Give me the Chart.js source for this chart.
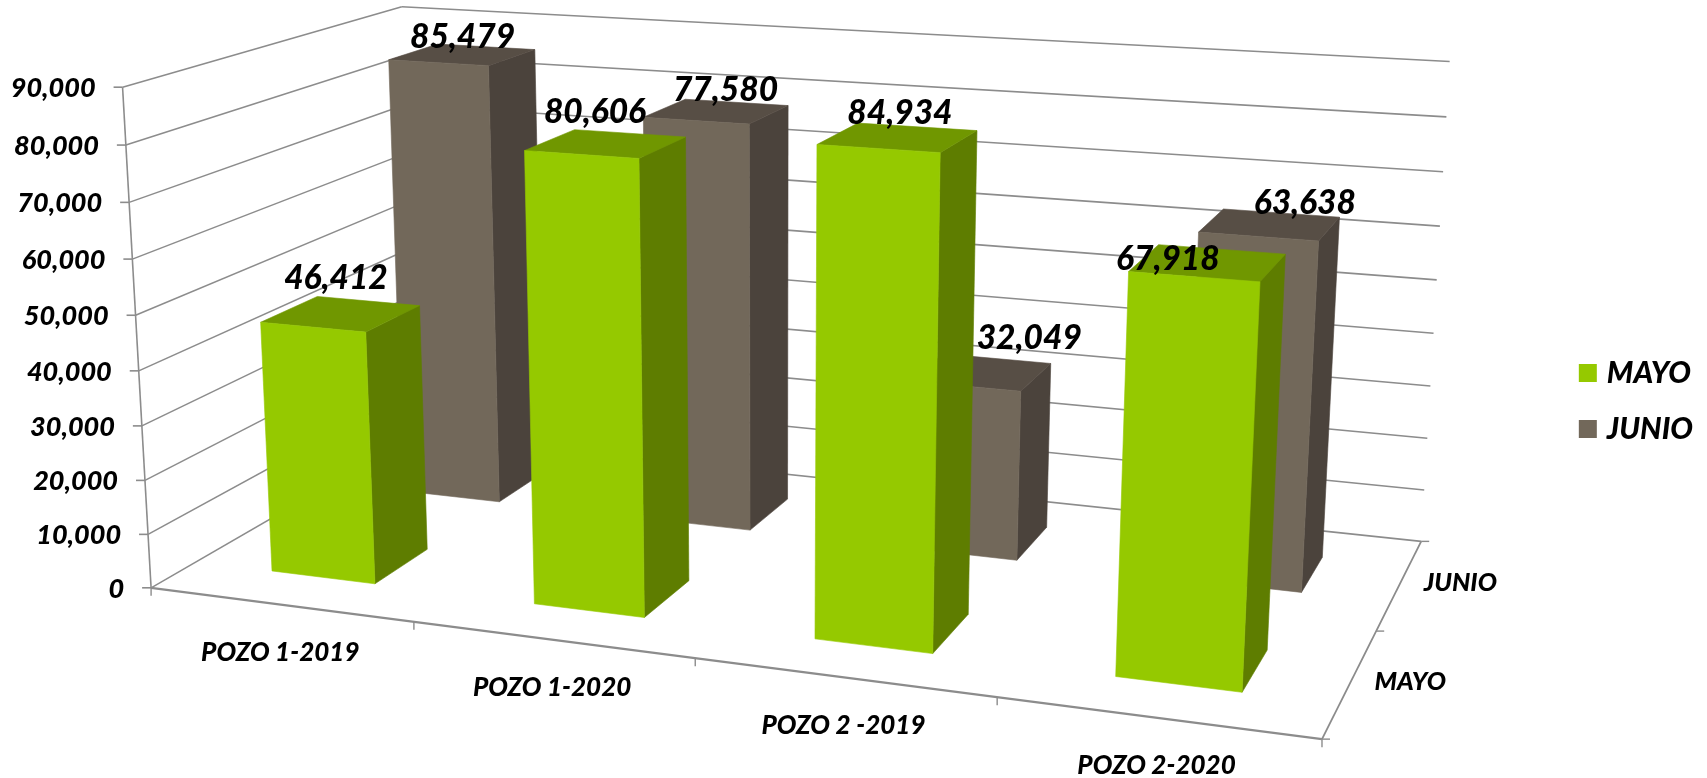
<!DOCTYPE html>
<html><head><meta charset="utf-8">
<style>html,body{margin:0;padding:0;background:#fff}#w{width:1707px;height:778px}</style>
<script src="https://cdn.jsdelivr.net/npm/chart.js@4/dist/chart.umd.min.js"></script>
</head><body><div id="w"><canvas id="c"></canvas></div>
<script>
const categories = ['POZO 1-2019','POZO 1-2020','POZO 2 -2019','POZO 2-2020'];
const mayo  = [46412, 80606, 84934, 67918];
const junio = [85479, 77580, 32049, 63638];
const seriesNames = ['MAYO','JUNIO'];

const FONT = 'Lato, Carlito, "Open Sans", sans-serif';
const GRID = '#8c8c8c';
const FACES = [
  {front:'#95c900', side:'#5e7d00', top:'#709700'},
  {front:'#72685a', side:'#4b433c', top:'#574e45'}
];
// Camera calibration of the 3D box: [u, v, w] in unit box -> screen
const CAMERA = [
 [0,0,0,152,587],[.25,0,0,414,623],[.5,0,0,695,660],[.75,0,0,996,698],[1,0,0,1322,738],
 [1,.5,0,1377,630],[1,1,0,1421,541],[0,1,0,415,435],
 [0,0,1,122,87],[0,0,5/9,136,314],[0,1,1,402,7],[1,1,1,1449,62],[1,1,8/9,1447,117],[1,1,5/9,1437,280]
];
function solveCamera(pts){
  const n=11, A=Array.from({length:n},()=>new Array(n+1).fill(0));
  const add=(r,b)=>{for(let i=0;i<n;i++){for(let j=0;j<n;j++)A[i][j]+=r[i]*r[j];A[i][n]+=r[i]*b;}};
  for(const [X,Y,Z,px,py] of pts){
    const x=px/1000,y=py/1000;
    add([X,Y,Z,1,0,0,0,0,-x*X,-x*Y,-x*Z],x);
    add([0,0,0,0,X,Y,Z,1,-y*X,-y*Y,-y*Z],y);
  }
  for(let c=0;c<n;c++){
    let p=c;for(let r=c+1;r<n;r++)if(Math.abs(A[r][c])>Math.abs(A[p][c]))p=r;
    [A[c],A[p]]=[A[p],A[c]];
    for(let r=0;r<n;r++){if(r===c)continue;const f=A[r][c]/A[c][c];for(let k=c;k<=n;k++)A[r][k]-=f*A[c][k];}
  }
  return A.map((row,i)=>row[n]/row[i]);
}
const H=solveCamera(CAMERA);
function P(u,v,w){
  const d=H[8]*u+H[9]*v+H[10]*w+1;
  return [1000*(H[0]*u+H[1]*v+H[2]*w+H[3])/d,1000*(H[4]*u+H[5]*v+H[6]*w+H[7])/d];
}
function line(ctx,a,b,lw){ctx.lineWidth=lw;ctx.beginPath();ctx.moveTo(a[0],a[1]);ctx.lineTo(b[0],b[1]);ctx.stroke();}
function poly(ctx,pts,fill){ctx.fillStyle=fill;ctx.strokeStyle=fill;ctx.lineWidth=.6;ctx.beginPath();pts.forEach((p,i)=>i?ctx.lineTo(p[0],p[1]):ctx.moveTo(p[0],p[1]));ctx.closePath();ctx.fill();ctx.stroke();}
function text(ctx,s,x,y,size,align){ctx.font=`italic 900 ${size}px ${FONT}`;ctx.fillStyle='#000';ctx.textAlign=align;ctx.textBaseline='middle';ctx.fillText(s,x,y);}
// hand placement of the value labels relative to each bar's top face [series][category]
const LABEL_NUDGE=[[[-5,-36],[-11,-31],[2,-24],[-40,-4]],[[0,-17],[9,-21],[48,-34],[35,-21]]];

const box3d={
  id:'box3d',
  beforeDatasetsDraw(chart){
    const ctx=chart.ctx,xs=chart.scales.x,ys=chart.scales.y;
    const U=px=>(px-xs.left)/xs.width, W=py=>(ys.bottom-py)/ys.height;
    const nS=chart.data.datasets.length;
    ctx.save();ctx.lineCap='butt';ctx.strokeStyle=GRID;
    // walls + value axis
    ys.ticks.forEach((t,i)=>{
      const w=W(ys.getPixelForTick(i));
      const a=P(0,0,w),b=P(0,1,w),c=P(1,1,w);
      line(ctx,a,b,1.5);line(ctx,b,c,1.6);
      line(ctx,[a[0]-9,a[1]],a,1.6);
      text(ctx,t.label,a[0]-27,a[1]+1,27,'right');
      ctx.strokeStyle=GRID;
    });
    line(ctx,P(0,0,0),P(0,0,1),1.6);
    // floor edges
    line(ctx,P(0,0,0),P(1,0,0),2.2);
    line(ctx,P(1,0,0),P(1,1,0),1.8);
    // category ticks and labels
    const n=categories.length;
    for(let i=0;i<=n;i++){const p=P(i/n,0,0);line(ctx,p,[p[0],p[1]+8],1.4);}
    xs.getLabels().forEach((l,i)=>{
      const p=P(U(xs.getPixelForTick(i)),0,0);
      text(ctx,l,p[0],p[1]+48,26,'center');ctx.strokeStyle=GRID;
    });
    // depth ticks and labels
    for(let i=0;i<=nS;i++){const p=P(1,i/nS,0);line(ctx,p,[p[0]+8,p[1]],1.4);}
    chart.data.datasets.forEach((d,i)=>{
      const p=P(1,(i+.5)/nS,0);
      text(ctx,d.label,p[0]+24,p[1]-1,25.5,'left');ctx.strokeStyle=GRID;
    });
    // boxes, back row first
    const labels=[];
    for(let s=nS-1;s>=0;s--){
      const meta=chart.getDatasetMeta(s),f=FACES[s];
      const vc=(s+.5)/nS,dv=0.1;
      meta.data.forEach((el,i)=>{
        const uc=U(el.x),du=el.width/2/xs.width,w=W(el.y);
        const u0=uc-du,u1=uc+du,v0=vc-dv,v1=vc+dv;
        poly(ctx,[P(u1,v0,0),P(u1,v1,0),P(u1,v1,w),P(u1,v0,w)],f.side);
        poly(ctx,[P(u0,v0,w),P(u1,v0,w),P(u1,v1,w),P(u0,v1,w)],f.top);
        poly(ctx,[P(u0,v0,0),P(u1,v0,0),P(u1,v0,w),P(u0,v0,w)],f.front);
        const c=P(uc,vc,w),nn=LABEL_NUDGE[s][i];
        labels.push([ys.getValueForPixel(el.y),c[0]+nn[0],c[1]+nn[1]]);
      });
    }
    labels.forEach(([v,x,y])=>text(ctx,Math.round(v).toLocaleString('en-US'),x,y,33.5,'center'));
    ctx.restore();
    return false;
  }
};

new Chart(document.getElementById('c'),{
  type:'bar',
  data:{labels:categories,datasets:[
    {label:seriesNames[0],data:mayo,backgroundColor:FACES[0].front,borderColor:FACES[0].front,borderWidth:10},
    {label:seriesNames[1],data:junio,backgroundColor:FACES[1].front,borderColor:FACES[1].front,borderWidth:10}
  ]},
  plugins:[box3d],
  options:{
    responsive:true,maintainAspectRatio:false,animation:false,locale:'en-US',
    layout:{padding:{top:24,right:4,left:0,bottom:0}},
    datasets:{bar:{grouped:false,barPercentage:.4,categoryPercentage:1}},
    scales:{
      x:{type:'category',ticks:{display:false},grid:{display:false},border:{display:false}},
      y:{type:'linear',min:0,max:90000,ticks:{display:false,stepSize:10000},grid:{display:false},border:{display:false}}
    },
    plugins:{
      tooltip:{enabled:false},
      legend:{position:'right',align:'center',labels:{boxWidth:8,boxHeight:8,padding:26,color:'#000',font:{family:FONT,size:30,style:'italic',weight:'900'}}}
    }
  }
});
</script></body></html>
